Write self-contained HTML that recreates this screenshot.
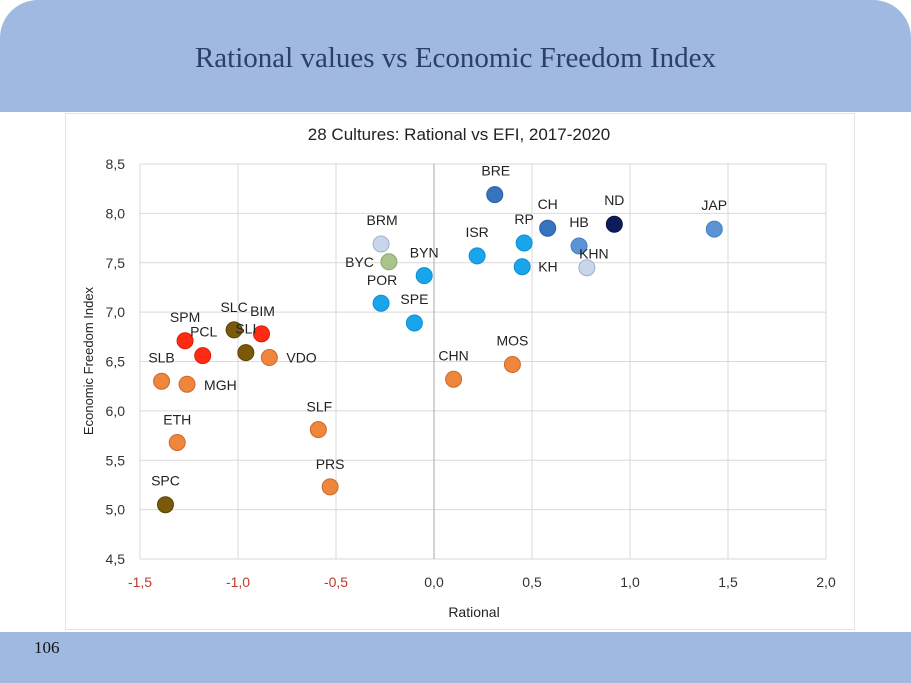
<!DOCTYPE html>
<html><head><meta charset="utf-8"><style>
body{margin:0;width:911px;height:683px;background:#fff;overflow:hidden;font-family:"Liberation Sans",sans-serif;position:relative}
#hdr{position:absolute;left:0;top:0;width:911px;height:112px;background:#9fb9e0;border-radius:38px 38px 0 0}
#hdr div{position:absolute;width:100%;top:42px;text-align:center;font-family:"Liberation Serif",serif;font-size:29px;color:#2b3f6b}
#ftr{position:absolute;left:0;top:632px;width:911px;height:51px;background:#9fb9e0}
#ftr span{position:absolute;left:34px;top:6px;font-family:"Liberation Serif",serif;font-size:17px;color:#111}
#frame{position:absolute;left:65px;top:113px;width:788px;height:515px;border:1px solid #e4e4e4}
svg{position:absolute;left:0;top:0}
</style></head><body>
<div id="hdr"><div>Rational values vs Economic Freedom Index</div></div>
<div id="frame"></div>
<div id="ftr"><span>106</span></div>
<svg id="c" width="911" height="683"></svg>
<script>
const names=["BRE","CH","ND","JAP","HB","KHN","RP","KH","ISR","BRM","BYC","BYN","POR","SPE","CHN","MOS","SLC","BIM","SLI","SPM","PCL","VDO","SLB","MGH","SLF","ETH","PRS","SPC"];
const rational=[0.31,0.58,0.92,1.43,0.74,0.78,0.46,0.45,0.22,-0.27,-0.23,-0.05,-0.27,-0.10,0.10,0.40,-1.02,-0.88,-0.96,-1.27,-1.18,-0.84,-1.39,-1.26,-0.59,-1.31,-0.53,-1.37];
const efi=[8.19,7.85,7.89,7.84,7.67,7.45,7.70,7.46,7.57,7.69,7.51,7.37,7.09,6.89,6.32,6.47,6.82,6.78,6.59,6.71,6.56,6.54,6.30,6.27,5.81,5.68,5.23,5.05];
const groups=["mid","mid","navy","steel","steel","pale","sky","sky","sky","pale","green","sky","sky","sky","orange","orange","olive","red","olive","red","red","orange","orange","orange","orange","orange","orange","olive"];
const xTicks=[-1.5,-1.0,-0.5,0.0,0.5,1.0,1.5,2.0];
const yTicks=[4.5,5.0,5.5,6.0,6.5,7.0,7.5,8.0,8.5];
// label placement (layout only): [dx,dy,anchor]
const lab=[[1,-19,"middle"],[0,-19,"middle"],[0,-19,"middle"],[0,-19,"middle"],[0,-19,"middle"],[7,-9,"middle"],[0,-19,"middle"],[16,5,"start"],[0,-19,"middle"],[1,-19,"middle"],[-15,5,"end"],[0,-18,"middle"],[1,-18,"middle"],[0,-19,"middle"],[0,-19,"middle"],[0,-19,"middle"],[0,-18,"middle"],[1,-18,"middle"],[0,-19,"middle"],[0,-19,"middle"],[1,-19,"middle"],[17,5,"start"],[0,-19,"middle"],[17,6,"start"],[1,-18,"middle"],[0,-18,"middle"],[0,-18,"middle"],[0,-19,"middle"]];
const col={mid:["#3674bd","#2c5f9c"],navy:["#0c1d5a","#081443"],steel:["#5a94d4","#4a7fbd"],pale:["#c8d6ea","#9fb2cc"],sky:["#18a5ec","#1090d0"],green:["#a8c48a","#8aa870"],orange:["#f0853c","#c9692a"],olive:["#7a5a0a","#5a4306"],red:["#ff2a14","#d81e0c"]};
const X=v=>434+196*v, Y=v=>164+(8.5-v)*98.75;
const s=document.getElementById('c'),NS="http://www.w3.org/2000/svg";
function mk(t,a,txt){const e=document.createElementNS(NS,t);for(const k in a)e.setAttribute(k,a[k]);if(txt!=null)e.textContent=txt;s.appendChild(e);return e;}
let e=mk('text',{x:459,y:140,'text-anchor':'middle','font-size':17,fill:'#222'},'28 Cultures: Rational vs EFI, 2017-2020');


yTicks.forEach(v=>{
 let g=mk('line',{x1:X(-1.5),x2:X(2),y1:Y(v),y2:Y(v),stroke:'#d9d9d9','stroke-width':1});
 
 
 let t=mk('text',{x:125,y:Y(v)+5,'text-anchor':'end','font-size':14,fill:'#333'},v.toFixed(1).replace('.',','));
 
 
});
xTicks.forEach(v=>{
 let g=mk('line',{x1:X(v),x2:X(v),y1:Y(8.5),y2:Y(4.5),stroke:v===0?'#aaa':'#d9d9d9','stroke-width':1});
 
 
 let t=mk('text',{x:X(v),y:587,'text-anchor':'middle','font-size':14,fill:v<0?'#c0392b':'#333'},v.toFixed(1).replace('.',','));
 
 
});
e=mk('text',{x:474,y:617,'text-anchor':'middle','font-size':14,fill:'#222'},'Rational');


e=mk('text',{x:0,y:0,'text-anchor':'middle','font-size':13,fill:'#222',transform:'translate(93,361) rotate(-90)'},'Economic Freedom Index');


names.forEach((n,i)=>{
 const cx=X(rational[i]),cy=Y(efi[i]),c=col[groups[i]];
 let p=mk('circle',{cx:cx,cy:cy,r:8,fill:c[0],stroke:c[1],'stroke-width':1});
 
 
 let t=mk('text',{x:cx+lab[i][0],y:cy+lab[i][1],'text-anchor':lab[i][2],'font-size':14,fill:'#222'},n);
 
 
});
</script>
</body></html>
